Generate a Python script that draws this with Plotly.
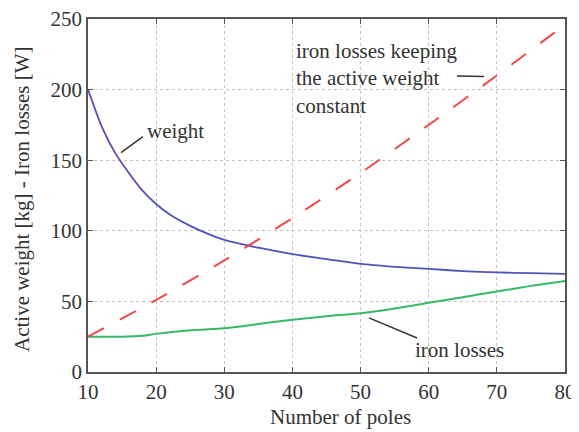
import plotly.graph_objects as go

# Number of poles
poles_weight = [10, 12, 14, 16, 18, 20, 22, 25, 30, 35, 40, 45, 50, 55, 60, 65, 70, 75, 80]
weight = [200, 174, 155, 141, 128.5, 119, 111.5, 103.5, 93.5, 88, 83.5, 80, 76.5, 74.5, 73, 71.5, 70.5, 70, 69.5]

poles_iron = [10, 15, 18, 20, 25, 30, 35, 40, 45, 50, 55, 60, 65, 70, 75, 80]
iron_losses = [25, 25, 25.7, 27, 29.5, 31, 34, 37, 39.5, 41.6, 45, 49, 53, 57, 61, 64.5]

poles_const = [10, 20, 30, 40, 50, 60, 70, 80]
iron_const_weight = [25, 51, 79, 109, 141, 175, 210, 246]

x_ticks = [10, 20, 30, 40, 50, 60, 70, 80]
y_ticks = [0, 50, 100, 150, 200, 250]

FONT = "Liberation Serif, Times New Roman, serif"
TXT = "#333333"

fig = go.Figure()
fig.add_trace(go.Scatter(x=poles_weight, y=weight, mode="lines",
                         line=dict(color="#5252b8", width=1.8, shape="spline", smoothing=0.7), showlegend=False))
fig.add_trace(go.Scatter(x=poles_iron, y=iron_losses, mode="lines",
                         line=dict(color="#38b868", width=2, shape="spline", smoothing=0.7), showlegend=False))
fig.add_trace(go.Scatter(x=poles_const, y=iron_const_weight, mode="lines",
                         line=dict(color="#f04a4a", width=2, dash="18px,18px", shape="spline", smoothing=0.7), showlegend=False))

axis_common = dict(
    showline=True, linecolor="#555555", linewidth=1.5, mirror="allticks",
    ticks="inside", ticklen=5, tickcolor="#555555", tickwidth=1.2,
    showgrid=True, gridcolor="#c4c4c4", gridwidth=1, griddash="dot",
    zeroline=False, automargin=False, ticklabeloverflow="allow",
    tickfont=dict(family=FONT, size=21, color=TXT),
)

# page body has an 8px margin, so the figure is sized to end at the window edge
fig.update_layout(
    width=571, height=424,
    margin=dict(l=80, r=14, t=11, b=60),
    paper_bgcolor="white", plot_bgcolor="white",
    font=dict(family=FONT, size=21, color=TXT),
    xaxis=dict(range=[10, 80], tickvals=x_ticks, ticktext=[str(v) for v in x_ticks], **axis_common),
    yaxis=dict(range=[0, 250], tickvals=y_ticks, ticktext=[str(v) for v in y_ticks], **axis_common),
)

# axis titles
fig.add_annotation(text="Number of poles", xref="paper", yref="paper", x=0.53, y=0, yshift=-45,
                   showarrow=False, xanchor="center", yanchor="middle", font=dict(family=FONT, size=21, color=TXT))
fig.add_annotation(text="Active weight [kg] - Iron losses [W]", xref="paper", yref="paper", x=0, xshift=-66, y=0.49,
                   textangle=-90, showarrow=False, xanchor="center", yanchor="middle", font=dict(family=FONT, size=21, color=TXT))

# labels
fig.add_annotation(text="weight", x=18.3, y=171, xanchor="left", yanchor="middle", showarrow=False,
                   font=dict(family=FONT, size=21, color=TXT))
fig.add_shape(type="line", x0=14.84, y0=155.3, x1=18.07, y1=166.7, line=dict(color="#333333", width=1.5))

fig.add_annotation(text="iron losses keeping<br>the active weight<br>constant", x=40.2, y=208, xanchor="left", yanchor="middle",
                   align="left", showarrow=False, font=dict(family=FONT, size=21, color=TXT))
fig.add_shape(type="line", x0=64.15, y0=209.7, x1=68.1, y1=209.3, line=dict(color="#333333", width=1.5))

fig.add_annotation(text="iron losses", x=57.7, y=15.6, xanchor="left", yanchor="middle", showarrow=False,
                   font=dict(family=FONT, size=21, color=TXT))
fig.add_shape(type="line", x0=51.24, y0=38.3, x1=58.28, y1=24.1, line=dict(color="#333333", width=1.5))

fig.write_html("out.html")
